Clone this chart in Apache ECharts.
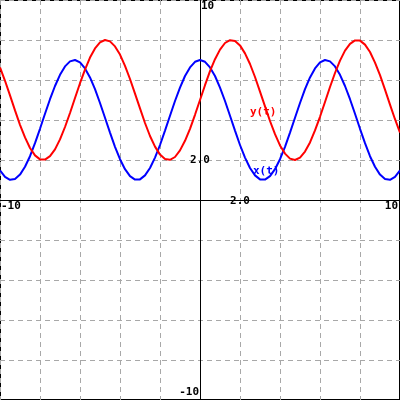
<!DOCTYPE html>
<html>
<head>
<meta charset="utf-8">
<script src="https://cdn.jsdelivr.net/npm/echarts@6/dist/echarts.min.js"></script>
<style>
html,body{margin:0;padding:0;background:#fff;}
#plot{width:400px;height:400px;}
</style>
</head>
<body>
<div id="plot"></div>
<script>
// t values sampled every 0.25
var tValues = [-10,-9.75,-9.5,-9.25,-9,-8.75,-8.5,-8.25,-8,-7.75,-7.5,-7.25,-7,-6.75,-6.5,-6.25,-6,-5.75,-5.5,-5.25,-5,-4.75,-4.5,-4.25,-4,-3.75,-3.5,-3.25,-3,-2.75,-2.5,-2.25,-2,-1.75,-1.5,-1.25,-1,-0.75,-0.5,-0.25,
	0,0.25,0.5,0.75,1,1.25,1.5,1.75,2,2.25,2.5,2.75,3,3.25,3.5,3.75,4,4.25,4.5,4.75,5,5.25,5.5,5.75,6,6.25,6.5,6.75,7,7.25,7.5,7.75,8,8.25,8.5,8.75,9,9.25,9.5,9.75,10];
// blue curve x(t)
var xOfT = [1.48,1.16,1.01,1.05,1.27,1.66,2.19,2.84,3.56,4.31,5.04,5.70,6.26,6.68,6.93,7.00,6.88,6.58,6.13,5.54,4.85,4.11,3.37,2.66,2.04,1.54,1.19,1.02,1.03,1.23,1.60,2.12,2.75,3.47,4.21,4.95,5.62,6.20,6.63,6.91,
	7.00,6.91,6.63,6.20,5.62,4.95,4.21,3.47,2.75,2.12,1.60,1.23,1.03,1.02,1.19,1.54,2.04,2.66,3.37,4.11,4.85,5.54,6.13,6.58,6.88,7.00,6.93,6.68,6.26,5.70,5.04,4.31,3.56,2.84,2.19,1.66,1.27,1.05,1.01,1.16,1.48];
// red curve y(t)
var yOfT = [6.63,5.96,5.23,4.48,3.76,3.13,2.60,2.23,2.03,2.02,2.19,2.53,3.03,3.65,4.35,5.10,5.84,6.52,7.12,7.58,7.88,8.00,7.93,7.68,7.27,6.71,6.05,5.32,4.58,3.85,3.20,2.67,2.27,2.05,2.01,2.15,2.48,2.96,3.56,4.26,
	5.00,5.74,6.44,7.04,7.52,7.85,7.99,7.95,7.73,7.33,6.80,6.15,5.42,4.68,3.95,3.29,2.73,2.32,2.07,2.00,2.12,2.42,2.88,3.48,4.16,4.90,5.65,6.35,6.97,7.47,7.81,7.98,7.97,7.77,7.40,6.87,6.24,5.52,4.77,4.04,3.37];
var seriesNames = ['x(t)','y(t)'];

var font = 'bold 11px "DejaVu Sans Mono", "Liberation Mono", monospace';

function pairs(ys){
	return tValues.map(function(t,i){ return [t, ys[i]]; });
}

var myChart = echarts.init(document.getElementById('plot'), null, {renderer:'canvas'});
var dashed = {show:true, lineStyle:{color:'#a8a8a8', width:1, type:[5,4]}};
var option = {
	animation:false,
	grid:{
		left:0, right:0, top:0, bottom:0,
		show:true,
		borderColor:'#000',
		borderWidth:2,
		backgroundColor:'#fff'
	},
	xAxis:{
		type:'value', min:-10, max:10, interval:2,
		axisLine:{onZero:true, lineStyle:{color:'#000', width:1}},
		axisTick:{show:false},
		axisLabel:{show:false},
		splitLine:dashed
	},
	yAxis:{
		type:'value', min:-10, max:10, interval:2,
		axisLine:{onZero:true, lineStyle:{color:'#000', width:1}},
		axisTick:{show:false},
		axisLabel:{show:false},
		splitLine:dashed
	},
	series:[
		{name:seriesNames[0], type:'line', data:pairs(xOfT), showSymbol:false,
			lineStyle:{color:'#0000ff', width:2}, z:3},
		{name:seriesNames[1], type:'line', data:pairs(yOfT), showSymbol:false,
			lineStyle:{color:'#ff0000', width:2}, z:4}
	]
};
myChart.setOption(option);

// text labels placed at data coordinates
function txt(str, dx, dy, align, vAlign, color, ox, oy){
	var p = myChart.convertToPixel({gridIndex:0}, [dx, dy]);
	return {
		type:'text', x:p[0] + (ox||0), y:p[1] + (oy||0), z:10,
		style:{text:str, font:font, fill:color||'#000', align:align, verticalAlign:vAlign}
	};
}
myChart.setOption({
	graphic:[
		txt('10', 0, 10, 'left', 'top', '#000', 1, 1),
		txt('-10', 0, -10, 'right', 'bottom', '#000', -1, -2),
		txt('-10', -10, 0, 'left', 'top', '#000', 1, 1),
		txt('10', 10, 0, 'right', 'top', '#000', -2, 1),
		txt('2.0', 2, 0, 'center', 'middle', '#000', 0, 1),
		txt('2.0', 0, 2, 'center', 'middle', '#000', 0, 0),
		txt(seriesNames[1], 2.5, 4.4, 'left', 'middle', '#ff0000', 0, 0),
		txt(seriesNames[0], 2.65, 1.43, 'left', 'middle', '#0000ff', 0, 0)
	]
});
window.addEventListener('resize', function(){ myChart.resize(); });
</script>
</body>
</html>
